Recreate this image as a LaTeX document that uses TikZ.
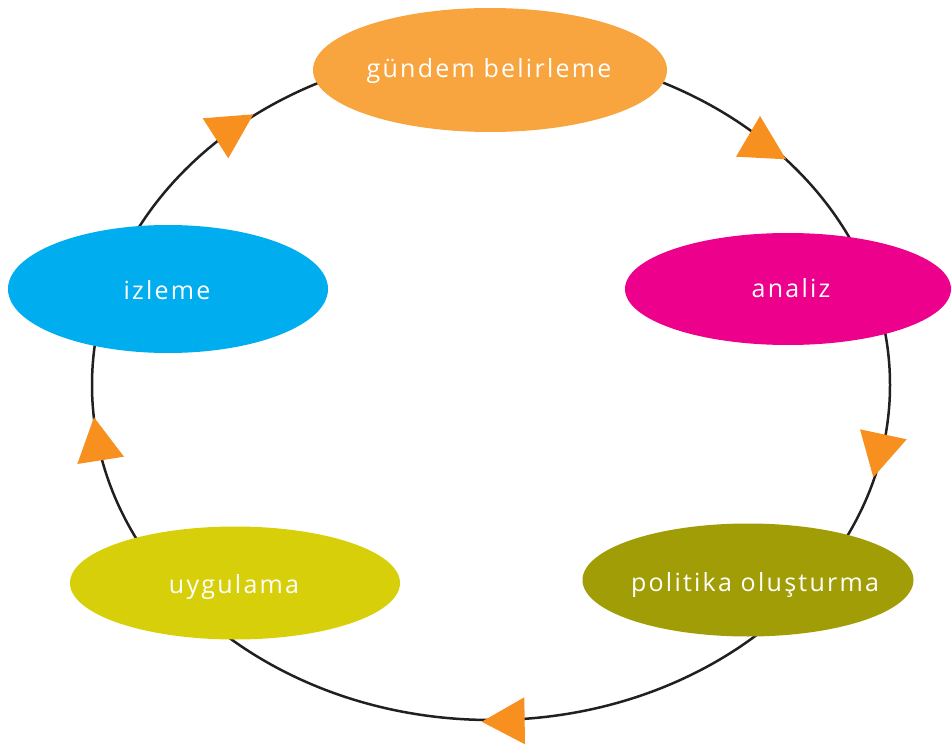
\documentclass[tikz,border=0pt]{standalone}
\usepackage{fontspec}
\setmainfont{Open Sans}[LetterSpace=9]
\usetikzlibrary{shapes.geometric}
\definecolor{cOrange}{HTML}{F9A53F}
\definecolor{cMagenta}{HTML}{EC008C}
\definecolor{cCyan}{HTML}{00AEEF}
\definecolor{cYellow}{HTML}{D6CF0A}
\definecolor{cOlive}{HTML}{A19D06}
\definecolor{cArrow}{HTML}{F7901E}
\definecolor{cLine}{HTML}{231F20}
\tikzset{
  blob/.style={ellipse, inner sep=0pt},
  lbl/.style={anchor=base, text=white, inner sep=0pt, font=\fontsize{25}{28}\selectfont},
  tri/.style={fill=cArrow, draw=none},
  cycleline/.style={draw=cLine, line width=2.5pt}
}
\begin{document}
\begin{tikzpicture}[x=1pt,y=-1pt]
\useasboundingbox (0,0) rectangle (951,749);
% cycle
\draw[cycleline] (491,385) ellipse [x radius=399, y radius=335];
% ellipses
\node[blob, fill=cOrange, minimum width=354pt, minimum height=124pt] (gundem) at (490,70) {};
\node[blob, fill=cMagenta, minimum width=326pt, minimum height=112pt] (analiz) at (788,289) {};
\node[blob, fill=cCyan, minimum width=320pt, minimum height=128pt] (izleme) at (168,289) {};
\node[blob, fill=cYellow, minimum width=330pt, minimum height=113pt] (uygulama) at (235,583) {};
\node[blob, fill=cOlive, minimum width=331pt, minimum height=113pt] (politika) at (748,580) {};
% labels
\node[lbl] (tgundem) at (489,78) {gündem belirleme};
\node[lbl] (tanaliz) at (791,297) {analiz};
\node[lbl] (tizleme) at (167,299) {izleme};
\node[lbl] (tuygulama) at (234,593) {uygulama};
\node[lbl] (tpolitika) at (755,591) {politika oluşturma};
% arrowheads
\fill[tri] (202.7,118.3) -- (253.3,114.3) -- (228.3,158.3) -- cycle;
\fill[tri] (760,116) -- (736,156.7) -- (786,159.3) -- cycle;
\fill[tri] (860,429.3) -- (906.7,439.3) -- (873.3,477.3) -- cycle;
\fill[tri] (481.7,721.7) -- (524.3,697.3) -- (525,744.3) -- cycle;
\fill[tri] (94,417.3) -- (124,456.7) -- (77.3,464) -- cycle;
\end{tikzpicture}
\end{document}
